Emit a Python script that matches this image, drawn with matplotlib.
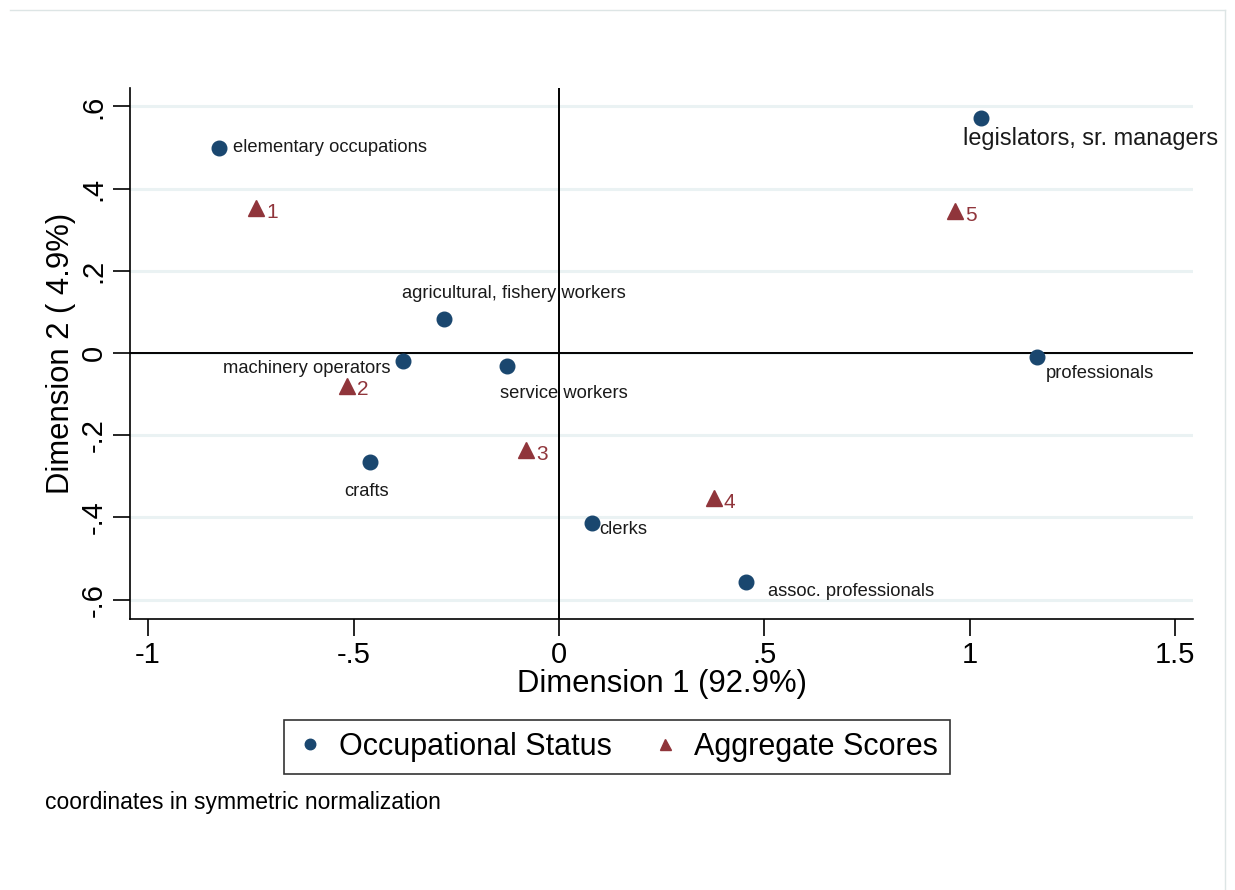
import matplotlib
matplotlib.use("Agg")
import matplotlib.pyplot as plt

plt.rcParams['font.family'] = ['Liberation Sans', 'DejaVu Sans']

# row coordinates (occupational status)
occ_names = ['elementary occupations', 'legislators, sr. managers', 'agricultural, fishery workers',
             'machinery operators', 'service workers', 'professionals', 'crafts', 'clerks',
             'assoc. professionals']
occ_x = [-0.827, 1.027, -0.280, -0.380, -0.127, 1.163, -0.460, 0.080, 0.455]
occ_y = [0.499, 0.572, 0.083, -0.019, -0.032, -0.010, -0.265, -0.414, -0.557]

# column coordinates (aggregate scores)
agg_names = ['1', '2', '3', '4', '5']
agg_x = [-0.737, -0.516, -0.080, 0.377, 0.964]
agg_y = [0.353, -0.080, -0.236, -0.353, 0.345]

xticks = [-1, -0.5, 0, 0.5, 1, 1.5]
xticklabels = ['-1', '-.5', '0', '.5', '1', '1.5']
yticks = [0.6, 0.4, 0.2, 0, -0.2, -0.4, -0.6]
yticklabels = ['.6', '.4', '.2', '0', '-.2', '-.4', '-.6']

navy = '#1a476f'
maroon = '#90353b'

# label placement (offset pixels, ha, size)
occ_lab = [((14, 1), 'left', 13.2), ((-18, -20), 'left', 16.9), ((-42, 25), 'left', 13.2),
           ((-12, -8), 'right', 13.2), ((-7, -27), 'left', 13.2), ((9, -16), 'left', 13.2),
           ((-3, -29), 'center', 13.2), ((7, -6), 'left', 13.2), ((22, -9), 'left', 13.2)]

fig = plt.figure(figsize=(12.35, 8.9), dpi=100)
fig.patch.set_facecolor('white')
ax = fig.add_axes([130/1235, 1 - 619/890, (1193 - 130)/1235, (619 - 88)/890])
ax.set_xlim(-1.044, 1.543)
ax.set_ylim(-0.647, 0.645)

for yv in yticks:
    ax.axhline(yv, color='#eaf2f3', lw=2.2, zorder=0)
ax.axhline(0, color='black', lw=1.4, zorder=1)
ax.axvline(0, color='black', lw=1.4, zorder=1)

ax.plot(occ_x, occ_y, 'o', color=navy, ms=10.5, zorder=3, label='Occupational Status')
ax.plot(agg_x, agg_y, '^', color=maroon, ms=11, zorder=3, label='Aggregate Scores')

for name, x, y, (off, ha, sz) in zip(occ_names, occ_x, occ_y, occ_lab):
    ax.annotate(name, (x, y), xytext=off, textcoords='offset pixels',
                ha=ha, va='center', fontsize=sz, color='#1a1a1a')
for name, x, y in zip(agg_names, agg_x, agg_y):
    ax.annotate(name, (x, y), xytext=(10, -4), textcoords='offset pixels',
                ha='left', va='center', fontsize=15, color=maroon)

ax.set_xticks(xticks)
ax.set_xticklabels(xticklabels, fontsize=21)
ax.set_yticks(yticks)
ax.set_yticklabels(yticklabels, fontsize=21, rotation=90, va='center')
ax.tick_params(length=12, width=1.2, color='black', pad=4)
for s in ['top', 'right']:
    ax.spines[s].set_visible(False)
for s in ['left', 'bottom']:
    ax.spines[s].set_linewidth(1.2)

ax.set_xlabel('Dimension 1 (92.9%)', fontsize=22.3, labelpad=0)
ax.set_ylabel('Dimension 2 ( 4.9%)', fontsize=22.3, labelpad=3)

leg = fig.legend(loc='center', bbox_to_anchor=(617/1235, 1 - 747/890), ncol=2,
                 fontsize=22, frameon=True, fancybox=False, edgecolor='black',
                 markerscale=0.72, handlelength=0.9, handletextpad=0.5, columnspacing=1.3,
                 borderpad=0.4)
leg.get_frame().set_linewidth(1.2)

fig.text(45/1235, 1 - 803/890, 'coordinates in symmetric normalization', fontsize=16.5,
         ha='left', va='center')

# page border lines
fig.add_artist(plt.Line2D([10/1235, 1225/1235], [1 - 10/890, 1 - 10/890], color='#dde5e5', lw=1))
fig.add_artist(plt.Line2D([1225/1235, 1225/1235], [0, 1 - 10/890], color='#dde5e5', lw=1))

fig.savefig('out.png', dpi=100, facecolor='white')
